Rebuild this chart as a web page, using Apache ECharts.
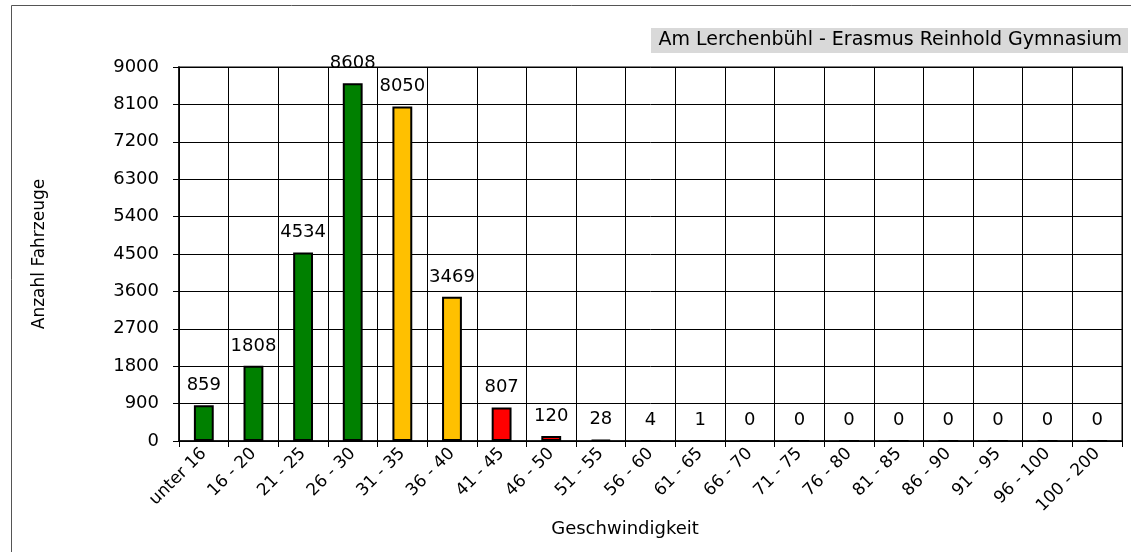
<!DOCTYPE html>
<html>
<head>
<meta charset="utf-8">
<script src="https://cdn.jsdelivr.net/npm/echarts@6/dist/echarts.min.js"></script>
<style>html,body{margin:0;padding:0;background:#fff}#c{width:1131px;height:552px}</style>
</head>
<body>
<div id="c"></div>
<script>
const categories = ["unter 16","16 - 20","21 - 25","26 - 30","31 - 35","36 - 40","41 - 45","46 - 50","51 - 55","56 - 60","61 - 65","66 - 70","71 - 75","76 - 80","81 - 85","86 - 90","91 - 95","96 - 100","100 - 200"];
const counts = [859,1808,4534,8608,8050,3469,807,120,28,4,1,0,0,0,0,0,0,0,0];
const chartTitle = "Am Lerchenbühl - Erasmus Reinhold Gymnasium";
const xName = "Geschwindigkeit";
const yName = "Anzahl Fahrzeuge";

const FONT = '"DejaVu Sans", "Liberation Sans", Arial, sans-serif';
function colorFor(i){ if(i<4) return '#008000'; if(i<6) return '#FFC000'; return '#FF0000'; }

const chart = echarts.init(document.getElementById('c'), null, {renderer:'canvas'});
chart.setOption({
  animation:false,
  backgroundColor:'#fff',
  textStyle:{fontFamily:FONT},
  grid:{left:179,right:9,top:67,bottom:111,show:true,borderColor:'#808080',borderWidth:2,backgroundColor:'transparent'},
  xAxis:{
    type:'category', data:categories,
    axisLine:{lineStyle:{color:'#000',width:1.5}},
    axisTick:{show:true,alignWithLabel:false,length:6,lineStyle:{color:'#000'}},
    axisLabel:{rotate:45,color:'#000',fontSize:17,fontFamily:FONT,margin:10,interval:0},
    splitLine:{show:true,interval:0,lineStyle:{color:'#000',width:1}}
  },
  yAxis:{
    type:'value', min:0, max:9000, interval:900,
    axisLine:{show:true,lineStyle:{color:'#000',width:1.5}},
    axisTick:{show:true,length:6,lineStyle:{color:'#000'}},
    axisLabel:{color:'#000',fontSize:18,fontFamily:FONT,margin:20,formatter:v=>String(v)},
    splitLine:{lineStyle:{color:'#000',width:1}}
  },
  series:[{
    type:'bar',
    barWidth:'40%',
    data:counts.map((v,i)=>({value:v,itemStyle:{color:colorFor(i),borderColor:'#000',borderWidth:2}})),
    label:{show:true,position:'top',distance:11,color:'#000',fontSize:18,fontFamily:FONT}
  }],
  graphic:[
    {type:'rect',shape:{x:11.5,y:5.5,width:1200,height:600},style:{fill:'none',stroke:'#555',lineWidth:1},z:-10},
    {type:'rect',shape:{x:651,y:28,width:477,height:25},style:{fill:'#d9d9d9'},z:1},
    {type:'text',x:1122,y:40.5,style:{text:chartTitle,font:'19px '+FONT,fill:'#000',align:'right',verticalAlign:'middle'},z:2},
    {type:'text',x:625,y:529,style:{text:xName,font:'18px '+FONT,fill:'#000',align:'center',verticalAlign:'middle'}},
    {type:'text',x:40,y:254,rotation:Math.PI/2,style:{text:yName,font:'17px '+FONT,fill:'#000',align:'center',verticalAlign:'middle'}}
  ]
});
</script>
</body>
</html>
